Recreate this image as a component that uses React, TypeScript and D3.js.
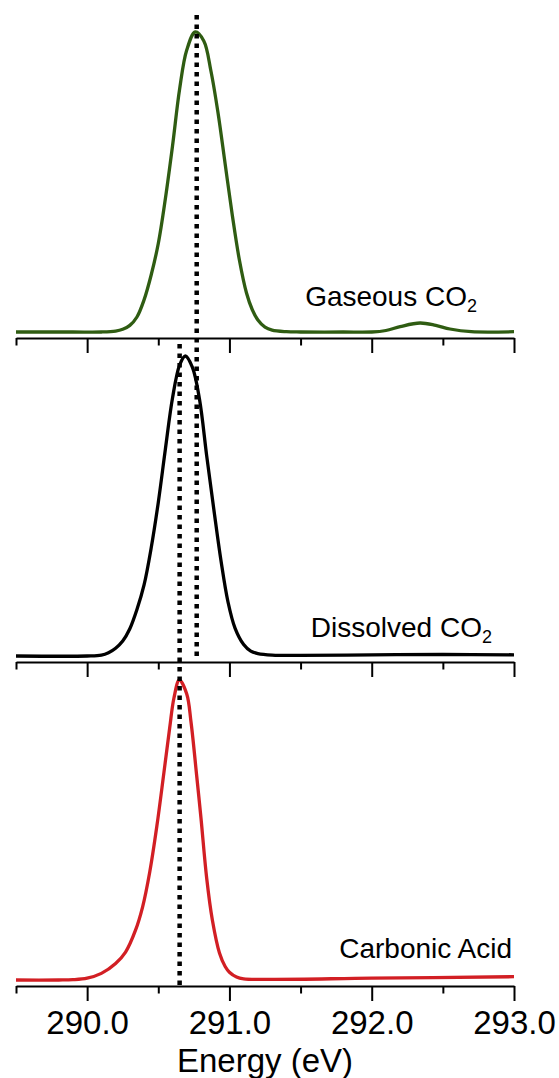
import { useEffect, useRef } from 'react';
import * as d3 from 'd3';

// energy axis ticks (eV)
const majorTicks = [290, 291, 292, 293];
const minorTicks = [289.5, 290.5, 291.5, 292.5];

// Gaseous CO2 (normalised intensity)
const gaseousEnergy = [
  289.5, 289.9, 290.1, 290.2, 290.25, 290.3, 290.35, 290.4, 290.45, 290.5, 290.55, 290.6,
  290.65, 290.7, 290.76, 290.82, 290.87, 290.92, 290.97, 291.02, 291.07, 291.12, 291.16,
  291.2, 291.25, 291.3, 291.4, 291.5, 291.8, 292.0, 292.1, 292.2, 292.34, 292.45, 292.55,
  292.7, 293.0,
];
const gaseousIntensity = [
  0, 0, 0, 0.003, 0.009, 0.022, 0.05, 0.107, 0.19, 0.295, 0.445, 0.62,
  0.81, 0.94, 1.0, 0.97, 0.87, 0.73, 0.56, 0.39, 0.24, 0.13, 0.075,
  0.04, 0.016, 0.006, 0.001, 0, 0, 0, 0.005, 0.018, 0.03, 0.022, 0.01,
  0.001, 0.001,
];

// Dissolved CO2
const dissolvedEnergy = [
  289.5, 290.0, 290.1, 290.15, 290.2, 290.25, 290.3, 290.35, 290.4, 290.45, 290.5, 290.55,
  290.6, 290.65, 290.69, 290.74, 290.79, 290.84, 290.89, 290.94, 290.99, 291.04, 291.1,
  291.15, 291.2, 291.3, 291.5, 292.0, 292.5, 293.0,
];
const dissolvedIntensity = [
  0, 0, 0.003, 0.011, 0.026, 0.05, 0.091, 0.155, 0.237, 0.36, 0.512, 0.69,
  0.86, 0.97, 1.0, 0.962, 0.855, 0.668, 0.49, 0.32, 0.18, 0.092, 0.038,
  0.016, 0.008, 0.003, 0.002, 0.004, 0.005, 0.004,
];

// Carbonic acid
const carbonicEnergy = [
  289.5, 289.8, 289.9, 290.0, 290.1, 290.2, 290.27, 290.34, 290.39, 290.44, 290.49, 290.54,
  290.58, 290.61, 290.648, 290.7, 290.73, 290.77, 290.8, 290.84, 290.88, 290.93, 290.97,
  291.0, 291.05, 291.1, 291.3, 292.0, 293.0,
];
const carbonicIntensity = [
  0, 0, 0.001, 0.006, 0.022, 0.055, 0.093, 0.166, 0.244, 0.36, 0.513, 0.693,
  0.84, 0.94, 1.0, 0.953, 0.86, 0.68, 0.54, 0.34, 0.2, 0.09, 0.045,
  0.026, 0.01, 0.004, 0.002, 0.006, 0.011,
];

const seriesNames = ['Gaseous CO', 'Dissolved CO', 'Carbonic Acid'];
const seriesSubscripts = ['2', '2', ''];
const seriesColors = ['#2f5c12', '#000000', '#d21f24'];

// peak positions marked with dotted lines (eV)
const peakMarkers = [290.77, 290.65];

export default function App() {
  const svgRef = useRef<SVGSVGElement>(null);

  useEffect(() => {
    if (!svgRef.current) return;
    const svg = d3.select(svgRef.current);
    svg.selectAll('*').remove();

    const font = '"Liberation Sans", Arial, Helvetica, sans-serif';
    const x = d3.scaleLinear().domain([289.5, 293]).range([16, 514]);

    const panelAxisY = [338, 662, 986];
    const panelHeight = 324;
    const yScales = panelAxisY.map((ay) =>
      d3.scaleLinear().domain([-0.02, 1.06]).range([ay, ay - panelHeight])
    );

    const series = [
      { energy: gaseousEnergy, intensity: gaseousIntensity },
      { energy: dissolvedEnergy, intensity: dissolvedIntensity },
      { energy: carbonicEnergy, intensity: carbonicIntensity },
    ];

    // label layout: right edge and baseline offset above axis
    const labelRight = [477, 492, 512];
    const labelAbove = [32, 25, 28];

    series.forEach((s, i) => {
      const y = yScales[i];
      const pts = s.energy.map((e, k) => [e, s.intensity[k]] as [number, number]);
      const line = d3
        .line<[number, number]>()
        .x((d) => x(d[0]))
        .y((d) => y(d[1]))
        .curve(d3.curveCatmullRom.alpha(0.5));

      svg
        .append('path')
        .attr('d', line(pts))
        .attr('fill', 'none')
        .attr('stroke', seriesColors[i])
        .attr('stroke-width', 3.3)
        .attr('stroke-linejoin', 'round');

      // minor ticks
      const minor = svg
        .append('g')
        .attr('transform', `translate(0,${panelAxisY[i]})`)
        .call(d3.axisBottom(x).tickValues(minorTicks).tickSize(7.5).tickSizeOuter(0).tickFormat(() => ''));
      minor.select('.domain').remove();
      minor.selectAll('line').attr('stroke', '#000').attr('stroke-width', 2);

      // major ticks + axis line
      const major = svg
        .append('g')
        .attr('transform', `translate(0,${panelAxisY[i]})`)
        .call(
          d3
            .axisBottom(x)
            .tickValues(majorTicks)
            .tickSize(15)
            .tickSizeOuter(0)
            .tickPadding(10)
            .tickFormat((d) => (i === 2 ? d3.format('.1f')(Number(d)) : ''))
        );
      major.select('.domain').attr('stroke', '#000').attr('stroke-width', 2);
      major.selectAll('line').attr('stroke', '#000').attr('stroke-width', 2);
      major
        .selectAll('text')
        .attr('fill', '#000')
        .style('font-size', '33px')
        .style('font-family', font);

      const label = svg
        .append('text')
        .attr('x', labelRight[i])
        .attr('y', panelAxisY[i] - labelAbove[i])
        .attr('text-anchor', 'end')
        .style('font-family', font)
        .style('font-size', '28px')
        .attr('fill', '#000');
      label.append('tspan').text(seriesNames[i]);
      if (seriesSubscripts[i]) {
        label
          .append('tspan')
          .attr('dy', 6)
          .style('font-size', '18px')
          .text(seriesSubscripts[i]);
      }
    });

    // dotted peak markers, each spanning from one panel into the next
    const markerSpans = [
      { fromPanel: 0, top: 1.057, toPanel: 1, bottom: -0.004 },
      { fromPanel: 1, top: 1.04, toPanel: 2, bottom: -0.02 },
    ];
    peakMarkers.forEach((e, i) => {
      const span = markerSpans[i];
      svg
        .append('line')
        .attr('x1', x(e))
        .attr('x2', x(e))
        .attr('y1', yScales[span.fromPanel](span.top))
        .attr('y2', yScales[span.toPanel](span.bottom))
        .attr('stroke', '#000')
        .attr('stroke-width', 4.5)
        .attr('stroke-dasharray', '4.5 5');
    });

    svg
      .append('text')
      .attr('x', (x.range()[0] + x.range()[1]) / 2)
      .attr('y', 1072)
      .attr('text-anchor', 'middle')
      .style('font-family', font)
      .style('font-size', '33px')
      .attr('fill', '#000')
      .text('Energy (eV)');
  }, []);

  return (
    <svg
      ref={svgRef}
      width={559}
      height={1078}
      style={{ position: 'absolute', left: 0, top: 0, background: '#fff' }}
    ></svg>
  );
}
